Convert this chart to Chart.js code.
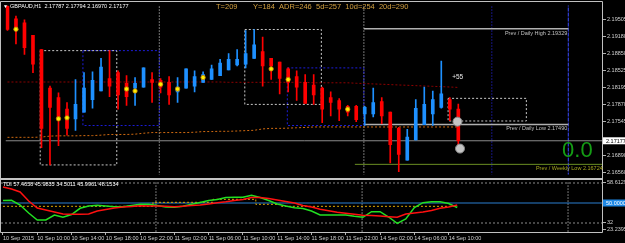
<!DOCTYPE html>
<html lang="en">
<head>
  <meta charset="UTF-8">
  <title>GBPAUD,H1</title>
  <script src="https://cdn.jsdelivr.net/npm/chart.js"></script>
  <style>
    body { margin: 0; background: #000; }
    #wrap { position: relative; width: 625px; height: 243px; overflow: hidden; background: #000; }
    #main { position: absolute; left: 0; top: 0; }
    #tdi { position: absolute; left: 0; top: 180px; }
    .sep { position: absolute; left: 0; top: 178px; width: 603px; height: 2px; background: #c4c4c4; }
  </style>
</head>
<body>
  <div id="wrap">
    <canvas id="main" width="625" height="180"></canvas>
    <div class="sep"></div>
    <canvas id="tdi" width="625" height="63"></canvas>
  </div>

  <script>
    // candles, H1 (index 0 = first visible bar)
    const candleOpen = [2.19758, 2.19518, 2.19444, 2.19204, 2.18927, 2.18189, 2.18005, 2.17784, 2.17599, 2.17728,
      2.17968, 2.18134, 2.18374, 2.18485, 2.18282, 2.18189, 2.18208, 2.18355, 2.18337, 2.18300,
      2.18116, 2.18189, 2.18226, 2.18300, 2.18355, 2.18429, 2.18540, 2.18632, 2.18651, 2.18761,
      2.18891, 2.18761, 2.18688, 2.18558, 2.18411, 2.18300, 2.18245, 2.18189, 2.18005, 2.17950,
      2.17839, 2.17839, 2.17691, 2.17691, 2.17931, 2.17728, 2.17415, 2.16806, 2.17193, 2.17488,
      2.17691, 2.17820, 2.17968, 2.17787];
    const candleHigh = [2.19790, 2.19573, 2.19499, 2.19204, 2.18927, 2.18226, 2.18097, 2.17913, 2.18355, 2.18485,
      2.18503, 2.18761, 2.18909, 2.18522, 2.18429, 2.18392, 2.18577, 2.18485, 2.18374, 2.18411,
      2.18392, 2.18558, 2.18522, 2.18503, 2.18632, 2.18743, 2.18854, 2.18927, 2.19296, 2.19315,
      2.19167, 2.18761, 2.18688, 2.18577, 2.18522, 2.18448, 2.18448, 2.18208, 2.18116, 2.17986,
      2.17857, 2.17857, 2.17839, 2.18189, 2.18005, 2.17728, 2.17433, 2.17396, 2.17968, 2.18208,
      2.18134, 2.18706, 2.18005, 2.17880];
    const candleLow = [2.19296, 2.19038, 2.18835, 2.18485, 2.17046, 2.16713, 2.17082, 2.17285, 2.17378, 2.17728,
      2.17802, 2.18134, 2.18023, 2.17784, 2.17857, 2.17857, 2.18208, 2.17913, 2.18097, 2.17876,
      2.17913, 2.18189, 2.18116, 2.18300, 2.18355, 2.18429, 2.18540, 2.18614, 2.18577, 2.18761,
      2.18226, 2.18355, 2.18079, 2.18116, 2.17950, 2.17894, 2.17876, 2.17525, 2.17654, 2.17562,
      2.17654, 2.17544, 2.17470, 2.17636, 2.17507, 2.16750, 2.16584, 2.16806, 2.17193, 2.17488,
      2.17470, 2.17802, 2.17562, 2.16970];
    const candleClose = [2.19315, 2.19352, 2.18964, 2.18651, 2.17415, 2.17820, 2.17599, 2.17415, 2.17876, 2.18189,
      2.18337, 2.18595, 2.18226, 2.18060, 2.18023, 2.18282, 2.18577, 2.18300, 2.18208, 2.18060,
      2.18208, 2.18558, 2.18411, 2.18448, 2.18558, 2.18669, 2.18743, 2.18743, 2.18854, 2.19020,
      2.18614, 2.18614, 2.18374, 2.18300, 2.18208, 2.17894, 2.18060, 2.17784, 2.17913, 2.17784,
      2.17728, 2.17581, 2.17820, 2.17913, 2.17654, 2.17101, 2.16916, 2.17249, 2.17802, 2.17876,
      2.17968, 2.18079, 2.17784, 2.17177];

    // moving averages drawn dotted on the price panel
    const maSlow = [2.18306, 2.18306, 2.18306, 2.18306, 2.18306, 2.18306, 2.18306, 2.18306, 2.18306, 2.18306,
      2.18306, 2.18306, 2.18306, 2.18306, 2.18306, 2.18306, 2.18306, 2.18306, 2.18306, 2.18306,
      2.18306, 2.18306, 2.18306, 2.18306, 2.18306, 2.18306, 2.18300, 2.18300, 2.18300, 2.18300,
      2.18300, 2.18300, 2.18300, 2.18300, 2.18300, 2.18300, 2.18291, 2.18291, 2.18291, 2.18291,
      2.18291, 2.18282, 2.18276, 2.18269, 2.18263, 2.18256, 2.18249, 2.18243, 2.18236, 2.18230,
      2.18223, 2.18217, 2.18210, 2.18202];
    const maFast = [2.17243, 2.17243, 2.17243, 2.17243, 2.17248, 2.17267, 2.17272, 2.17272, 2.17272, 2.17276,
      2.17276, 2.17285, 2.17298, 2.17298, 2.17298, 2.17304, 2.17322, 2.17335, 2.17335, 2.17335,
      2.17335, 2.17335, 2.17341, 2.17354, 2.17354, 2.17359, 2.17359, 2.17365, 2.17372, 2.17378,
      2.17405, 2.17415, 2.17415, 2.17420, 2.17427, 2.17433, 2.17442, 2.17442, 2.17442, 2.17442,
      2.17442, 2.17442, 2.17442, 2.17442, 2.17442, 2.17442, 2.17442, 2.17442, 2.17442, 2.17442,
      2.17442, 2.17442, 2.17442, 2.17442];

    // yellow signal dots and the two grey markers on the last bar
    const dotIdx = [1, 6, 7, 14, 15, 18, 20, 23, 31, 33, 40];
    const dotPrice = [2.19321, 2.17599, 2.17617, 2.18171, 2.18134, 2.18263, 2.18171, 2.18392, 2.18558, 2.18355, 2.17784];
    const flagIdx = [52.9, 53.2];
    const flagPrice = [2.17544, 2.17027];

    // range boxes (bar index / price)
    const boxFrom = [3.85, 8.87, 27.9, 32.9, 51.8];
    const boxTo = [12.85, 17.85, 36.9, 41.9, 61.0];
    const boxHigh = [2.18909, 2.18909, 2.19315, 2.18577, 2.17992];
    const boxLow = [2.16713, 2.17470, 2.17876, 2.17470, 2.17557];
    const boxKind = ['range', 'session', 'range', 'session', 'range'];

    // vertical separators (bar index)
    const vLineIdx = [17.85, 41.9, 56.94, 65.93];

    // previous high / low levels
    const levelName = ['Prev / Daily High', 'Prev / Daily Low', 'Prev / Weekly Low'];
    const levelPrice = [2.19329, 2.17490, 2.16724];
    const levelFrom = [41.9, 41.9, 40.84];
    const levelTo = [65.93, 65.93, 70.1];

    const lastPrice = 2.17177;
    const priceTicks = [2.19505, 2.19180, 2.18850, 2.18525, 2.18195, 2.17870, 2.17545, 2.16890, 2.16560];

    // TDI sub window
    const tdiRsi = [52.25, 52.43, 48.2, 41.0, 34.7, 34.7, 39.2, 37.13, 39.65, 45.23,
      47.3, 47.93, 47.3, 46.67, 46.67, 47.75, 48.83, 48.83, 47.75, 46.4,
      46.13, 47.03, 48.83, 50.45, 52.34, 53.15, 54.95, 55.13, 55.13, 56.93,
      54.95, 52.25, 49.1, 47.3, 45.68, 45.05, 42.8, 39.2, 39.2, 39.2,
      39.2, 38.03, 37.13, 42.17, 42.17, 37.4, 31.73, 35.6, 45.95, 50.27,
      51.17, 51.17, 49.55, 46.0];
    const tdiSignal = [64.4, 62.6, 59.9, 51.8, 45.5, 43.7, 41.9, 40.1, 39.8, 39.8,
      40.1, 42.8, 44.15, 45.5, 46.4, 46.85, 47.57, 47.3, 47.3, 47.03,
      46.67, 47.12, 47.66, 48.2, 49.1, 50.27, 51.08, 52.16, 53.15, 54.95,
      54.95, 54.14, 52.7, 51.35, 50.0, 47.75, 46.4, 44.33, 43.07, 41.63,
      40.73, 39.83, 38.93, 38.75, 38.3, 37.67, 37.13, 40.1, 41.0, 41.9,
      43.25, 45.23, 46.4, 48.15];
    const tdiBase = [47.0, 47.0, 47.0, 47.0, 47.0, 47.0, 47.0, 47.0, 47.0, 47.0,
      47.0, 47.0, 47.0, 47.0, 47.0, 47.0, 47.0, 47.0, 50.6, 50.6,
      50.6, 50.6, 50.6, 50.6, 50.6, 53.3, 53.3, 53.3, 53.3, 53.3,
      48.8, 48.8, 48.8, 47.0, 47.0, 47.0, 47.0, 47.0, 47.0, 47.0,
      47.0, 47.0, 47.0, 47.0, 47.0, 47.0, 47.0, 47.0, 47.0, 47.0,
      47.0, 47.0, 47.0, 47.0];
    const tdiLevels = [68, 32];
    const tdiMid = 50;
    const tdiTicks = [68.2, 32.3, 26.3];
    const tdiTickLabels = ['58.6129', '32', '23.2395'];

    const timeIdx = [0, 4, 8, 12, 16, 20, 24, 28, 32, 36, 40, 44, 48, 52];
    const timeLabels = ['10 Sep 2015', '10 Sep 10:00', '10 Sep 14:00', '10 Sep 18:00', '10 Sep 22:00',
      '11 Sep 02:00', '11 Sep 06:00', '11 Sep 10:00', '11 Sep 14:00', '11 Sep 18:00', '11 Sep 22:00',
      '14 Sep 02:00', '14 Sep 06:00', '14 Sep 10:00'];

    const RED = '#ff0000', BLUE = '#1e90ff';
    const FONT = '"Liberation Sans", Arial, sans-serif';
    const SMALL = '5.5px ' + FONT;
    Chart.defaults.font.family = FONT;

    const xMin = -0.23, xMax = 70.01;
    const yMin = 2.16529, yMax = 2.19776;
    const tdiMin = 23.9, tdiMax = 69.8;

    const idx = candleOpen.map((_, i) => i);
    const candleColor = idx.map(i => candleClose[i] >= candleOpen[i] ? BLUE : RED);

    function seg(x0, y0, x1, y1) { return [{ x: x0, y: y0 }, { x: x1, y: y1 }]; }
    function lineSet(data, color, width, dash, order) {
      return { type: 'line', data, borderColor: color, borderWidth: width, borderDash: dash,
        pointRadius: 0, fill: false, tension: 0, order };
    }

    const mainSets = [
      { type: 'bar', data: idx.map(i => ({ x: i, y: [candleOpen[i], candleClose[i]] })),
        backgroundColor: candleColor, barThickness: 3, minBarLength: 1, grouped: false, order: 1 },
      { type: 'bar', data: idx.map(i => ({ x: i, y: [candleLow[i], candleHigh[i]] })),
        backgroundColor: candleColor, barThickness: 1, grouped: false, order: 2 },
      { type: 'scatter', data: dotIdx.map((x, k) => ({ x, y: dotPrice[k] })),
        pointRadius: 2.2, pointBackgroundColor: '#ffee00', pointBorderColor: '#c08000', pointBorderWidth: 0.8, order: 0 },
      { type: 'scatter', data: flagIdx.map((x, k) => ({ x, y: flagPrice[k] })),
        pointRadius: 4.5, pointBackgroundColor: '#c4c4c4', pointBorderColor: '#8a8a8a', pointBorderWidth: 1, order: 0 },
      lineSet(idx.map(i => ({ x: i, y: maSlow[i] })), '#8e0000', 1, [2, 2], 4),
      lineSet(idx.map(i => ({ x: i, y: maFast[i] })), '#d06a10', 1, [2, 2], 4),
      lineSet(seg(xMin, lastPrice, xMax, lastPrice), '#8a8a8a', 1, [], 6)
    ];
    levelPrice.forEach((p, k) => {
      mainSets.push(lineSet(seg(levelFrom[k], p, levelTo[k], p),
        k < 2 ? '#b0b0b0' : '#6b8e23', k < 2 ? 1.5 : 1, [], 6));
    });
    boxFrom.forEach((x0, k) => {
      const x1 = boxTo[k], hi = boxHigh[k], lo = boxLow[k];
      mainSets.push(lineSet([{ x: x0, y: hi }, { x: x1, y: hi }, { x: x1, y: lo }, { x: x0, y: lo }, { x: x0, y: hi }],
        boxKind[k] === 'session' ? '#1c1cd8' : '#c8c8c8', 1, [2, 2], 5));
    });
    const vStyle = [['#e6e6e6', [1, 2]], ['#e6e6e6', [1, 2]], ['#2a2aff', [1, 2]], ['#3a4aff', [4, 1]]];
    vLineIdx.forEach((v, k) => {
      mainSets.push(lineSet(seg(v, yMin - 0.01, v, yMax + 0.01), vStyle[k][0], 1, vStyle[k][1], 7));
    });

    function priceAt(chart, v) { return chart.scales.y.getPixelForValue(v); }

    const mainDeco = {
      id: 'mainDeco',
      afterDraw(chart) {
        const { ctx, scales: { x, y } } = chart;
        ctx.save();
        // frame
        ctx.strokeStyle = '#c0c0c0';
        ctx.lineWidth = 1;
        ctx.beginPath();
        ctx.moveTo(0.5, 178); ctx.lineTo(0.5, 1.5); ctx.lineTo(602.5, 1.5); ctx.lineTo(602.5, 178);
        ctx.stroke();

        // header
        ctx.fillStyle = '#ffffff';
        ctx.font = '5px ' + FONT;
        ctx.textBaseline = 'alphabetic';
        ctx.fillText('\u25BC', 3, 7.5);
        ctx.font = SMALL;
        ctx.fillText('GBPAUD,H1  2.17787 2.17794 2.16970 2.17177', 10, 7.5);
        ctx.fillStyle = '#d2a040';
        ctx.font = '7.5px ' + FONT;
        ctx.fillText('T=209', 216, 9);
        ctx.fillText('Y=184  ADR=246  5d=257  10d=254  20d=290', 253, 9);

        // level captions
        ctx.font = SMALL;
        ctx.textAlign = 'right';
        levelPrice.forEach((p, k) => {
          ctx.fillStyle = k < 2 ? '#c0c0c0' : '#a8a81e';
          ctx.fillText(levelName[k] + ' ' + p.toFixed(5), x.getPixelForValue(levelTo[k]) - 1, y.getPixelForValue(p) + 6);
        });

        // annotations
        ctx.textAlign = 'left';
        ctx.fillStyle = '#e8e8e8';
        ctx.font = '6.5px ' + FONT;
        ctx.fillText('+55', x.getPixelForValue(52.28), y.getPixelForValue(2.18355));
        ctx.fillStyle = '#149c14';
        ctx.font = '22px ' + FONT;
        ctx.fillText('0.0', x.getPixelForValue(65.2), y.getPixelForValue(2.16861));

        // current price tag
        const py = priceAt(chart, lastPrice);
        ctx.fillStyle = '#ffffff';
        ctx.fillRect(603, py - 3.5, 22, 7);
        ctx.fillStyle = '#000000';
        ctx.font = SMALL;
        ctx.textBaseline = 'middle';
        ctx.fillText(lastPrice.toFixed(5), 606, py + 0.5);
        ctx.restore();
      }
    };

    new Chart(document.getElementById('main'), {
      type: 'bar',
      data: { datasets: mainSets },
      options: {
        responsive: false,
        animation: false,
        devicePixelRatio: 1,
        layout: { padding: { left: 1, top: 2, bottom: 2, right: 0 } },
        plugins: { legend: { display: false }, tooltip: { enabled: false } },
        scales: {
          x: { type: 'linear', display: false, min: xMin, max: xMax, offset: false },
          y: {
            position: 'right', min: yMin, max: yMax,
            afterBuildTicks: s => { s.ticks = priceTicks.map(v => ({ value: v })); },
            afterFit: s => { s.width = 22; s.paddingTop = 0; s.paddingBottom = 0; },
            ticks: { color: '#d0d0d0', font: { size: 5.5 }, padding: 1, autoSkip: false,
              callback: v => v.toFixed(5) },
            grid: { drawOnChartArea: false, color: '#b0b0b0', tickLength: 3 },
            border: { display: false }
          }
        }
      },
      plugins: [mainDeco]
    });

    // TDI
    const tdiSets = [
      lineSet(idx.map(i => ({ x: i, y: tdiSignal[i] })), '#ff1010', 1.5, [], 1),
      lineSet(idx.map(i => ({ x: i, y: tdiRsi[i] })), '#22e022', 1.5, [], 2),
      Object.assign(lineSet(idx.map(i => ({ x: i, y: tdiBase[i] })), '#e0a800', 1, [2, 2], 3), { stepped: 'middle' }),
      lineSet(seg(xMin, tdiMid, xMax, tdiMid), '#2b7fd0', 1, [], 4)
    ];
    tdiLevels.forEach(v => tdiSets.push(lineSet(seg(xMin, v, xMax, v), '#8c8c8c', 1, [2, 2], 5)));
    [vLineIdx[0], vLineIdx[1], vLineIdx[3]].forEach(v => {
      tdiSets.push(lineSet(seg(v, tdiMin - 5, v, tdiMax + 5), '#e6e6e6', 1, [1, 2], 6));
    });

    const tdiDeco = {
      id: 'tdiDeco',
      afterDraw(chart) {
        const { ctx, scales: { y } } = chart;
        ctx.save();
        ctx.strokeStyle = '#c0c0c0';
        ctx.lineWidth = 1;
        ctx.beginPath();
        ctx.moveTo(0.5, 0); ctx.lineTo(0.5, 52.5); ctx.lineTo(602.5, 52.5); ctx.lineTo(602.5, 0);
        ctx.stroke();

        ctx.fillStyle = '#ffffff';
        ctx.font = SMALL;
        ctx.textBaseline = 'alphabetic';
        ctx.fillText('TDI 57.4658 45.9835 34.5011 45.9961 48.1534', 3, 5.5);

        const py = y.getPixelForValue(tdiMid);
        ctx.fillStyle = '#1e88e5';
        ctx.fillRect(603, py - 3.5, 22, 7);
        ctx.fillStyle = '#ffffff';
        ctx.textBaseline = 'middle';
        ctx.fillText(tdiMid.toFixed(4), 606, py + 0.5);
        ctx.restore();
      }
    };

    new Chart(document.getElementById('tdi'), {
      type: 'line',
      data: { datasets: tdiSets },
      options: {
        responsive: false,
        animation: false,
        devicePixelRatio: 1,
        layout: { padding: { left: 1, top: 1, bottom: 0, right: 0 } },
        plugins: { legend: { display: false }, tooltip: { enabled: false } },
        scales: {
          x: {
            type: 'linear', min: xMin, max: xMax, offset: false,
            afterBuildTicks: s => { s.ticks = timeIdx.map(v => ({ value: v })); },
            afterFit: s => { s.height = 11; s.paddingLeft = 0; s.paddingRight = 0; },
            ticks: { color: '#d0d0d0', font: { size: 5.5 }, padding: 0, autoSkip: false, maxRotation: 0,
              align: 'start', callback: (v, k) => timeLabels[k] },
            grid: { drawOnChartArea: false, color: '#b0b0b0', tickLength: 3 },
            border: { display: false }
          },
          y: {
            position: 'right', min: tdiMin, max: tdiMax,
            afterBuildTicks: s => { s.ticks = tdiTicks.map(v => ({ value: v })); },
            afterFit: s => { s.width = 22; s.paddingTop = 0; s.paddingBottom = 0; },
            ticks: { color: '#d0d0d0', font: { size: 5.5 }, padding: 1, autoSkip: false,
              callback: (v, k) => tdiTickLabels[k] },
            grid: { drawOnChartArea: false, color: '#b0b0b0', tickLength: 3 },
            border: { display: false }
          }
        }
      },
      plugins: [tdiDeco]
    });
  </script>
</body>
</html>
